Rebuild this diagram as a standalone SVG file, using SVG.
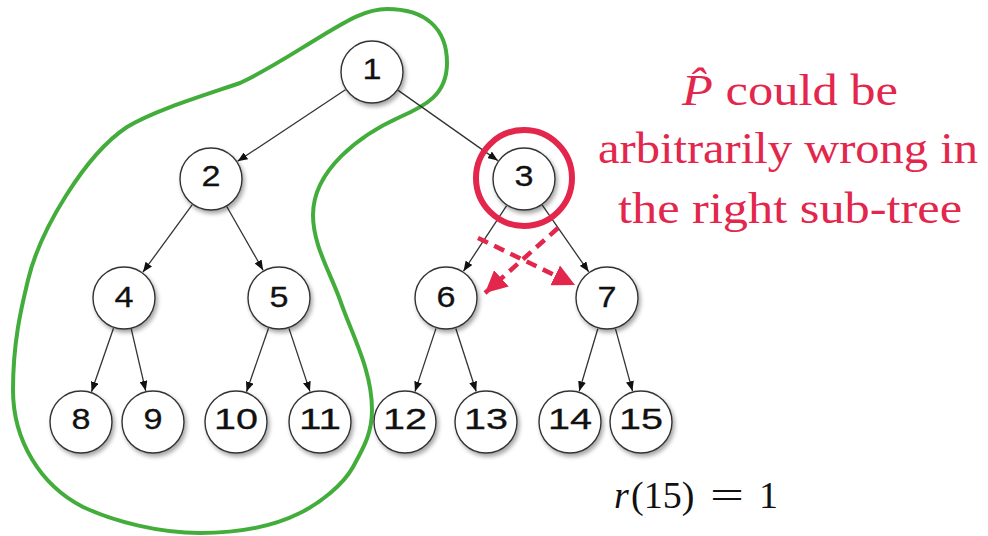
<svg xmlns="http://www.w3.org/2000/svg" width="988" height="536" viewBox="0 0 988 536">
<defs>
<filter id="sh" x="-30%" y="-30%" width="160%" height="160%">
<feDropShadow dx="2" dy="3" stdDeviation="2" flood-color="#000" flood-opacity="0.35"/>
</filter>
<marker id="ah" markerUnits="userSpaceOnUse" viewBox="0 0 10 8" markerWidth="10" markerHeight="8" refX="10" refY="4" orient="auto">
<path d="M0,0 L10,4 L0,8 z" fill="#111"/>
</marker>
<marker id="rh" markerUnits="userSpaceOnUse" viewBox="0 0 20 20" markerWidth="22" markerHeight="22" refX="20" refY="10" orient="auto">
<path d="M0,0 L20,10 L0,20 z" fill="#e3264c"/>
</marker>
<style>
.n circle{fill:#fff;stroke:#333;stroke-width:1.4;filter:url(#sh)}
.n text{font-family:"Liberation Sans",Arial,sans-serif;font-size:30px;fill:#111;stroke:#111;stroke-width:0.3;text-anchor:middle}
.e line{stroke:#333;stroke-width:1.3;marker-end:url(#ah)}
.r{fill:#e3264c;font-family:"Liberation Serif","Times New Roman",serif;font-size:45px;text-anchor:middle}
</style>
</defs>
<rect width="988" height="536" fill="#fff"/>

<g id="green-region">
<path fill="none" stroke="#43ad3c" stroke-width="4" d="M387,9 C425,9 447,28 447,63 C447,95 425,106 400,117 C360,135 313,170 313,215 C313,245 330,272 340,300 C352,335 372,370 372,410 C372,435 362,450 353,467 C343,485 320,503 300,513 C270,528 235,533 200,533 C160,533 115,522 83,507 C40,485 13,440 13,390 C13,340 22,305 28,280 C40,230 85,155 127,127 C155,110 205,95 240,83 C268,70 295,52 320,37 C345,22 365,9 387,9 Z"/>
</g>

<g id="connectors" class="e">
<line x1="345.4" y1="89.7" x2="237.6" y2="161.3"/>
<line x1="398.2" y1="90.4" x2="497.8" y2="160.6"/>
<line x1="192.1" y1="204.8" x2="142.9" y2="272.2"/>
<line x1="226.9" y1="206.8" x2="263.1" y2="270.2"/>
<line x1="506.5" y1="205.8" x2="463.5" y2="271.2"/>
<line x1="542.3" y1="205.2" x2="588.7" y2="271.8"/>
<line x1="113.5" y1="328.2" x2="91.5" y2="391.8"/>
<line x1="131.3" y1="329.2" x2="145.7" y2="390.8"/>
<line x1="268.5" y1="328.2" x2="246.5" y2="391.8"/>
<line x1="289.0" y1="328.4" x2="310.0" y2="391.6"/>
<line x1="436.0" y1="328.4" x2="415.0" y2="391.6"/>
<line x1="455.8" y1="328.5" x2="476.2" y2="391.5"/>
<line x1="597.8" y1="328.7" x2="579.2" y2="391.3"/>
<line x1="615.5" y1="328.9" x2="632.5" y2="391.1"/>
</g>

<g id="n1" class="n"><circle cx="372" cy="72" r="31"/><text x="372" y="79" textLength="19" lengthAdjust="spacingAndGlyphs">1</text></g>
<g id="n2" class="n"><circle cx="211" cy="179" r="31"/><text x="211" y="186" textLength="19" lengthAdjust="spacingAndGlyphs">2</text></g>
<g id="n3" class="n"><circle cx="524" cy="179" r="31"/><text x="524" y="186" textLength="19" lengthAdjust="spacingAndGlyphs">3</text></g>
<g id="n4" class="n"><circle cx="124" cy="298" r="31"/><text x="124" y="307" textLength="19" lengthAdjust="spacingAndGlyphs">4</text></g>
<g id="n5" class="n"><circle cx="279" cy="298" r="31"/><text x="279" y="307" textLength="19" lengthAdjust="spacingAndGlyphs">5</text></g>
<g id="n6" class="n"><circle cx="446" cy="298" r="31"/><text x="446" y="307" textLength="19" lengthAdjust="spacingAndGlyphs">6</text></g>
<g id="n7" class="n"><circle cx="607" cy="298" r="31"/><text x="607" y="307" textLength="19" lengthAdjust="spacingAndGlyphs">7</text></g>
<g id="n8" class="n"><circle cx="81" cy="422" r="31"/><text x="81" y="429" textLength="19" lengthAdjust="spacingAndGlyphs">8</text></g>
<g id="n9" class="n"><circle cx="153" cy="422" r="31"/><text x="153" y="429" textLength="19" lengthAdjust="spacingAndGlyphs">9</text></g>
<g id="n10" class="n"><circle cx="236" cy="422" r="31"/><text x="236" y="429" textLength="44" lengthAdjust="spacingAndGlyphs">10</text></g>
<g id="n11" class="n"><circle cx="320" cy="422" r="31"/><text x="320" y="429" textLength="42" lengthAdjust="spacingAndGlyphs">11</text></g>
<g id="n12" class="n"><circle cx="405" cy="422" r="31"/><text x="405" y="429" textLength="44" lengthAdjust="spacingAndGlyphs">12</text></g>
<g id="n13" class="n"><circle cx="486" cy="422" r="31"/><text x="486" y="429" textLength="44" lengthAdjust="spacingAndGlyphs">13</text></g>
<g id="n14" class="n"><circle cx="570" cy="422" r="31"/><text x="570" y="429" textLength="44" lengthAdjust="spacingAndGlyphs">14</text></g>
<g id="n15" class="n"><circle cx="641" cy="422" r="31"/><text x="641" y="429" textLength="44" lengthAdjust="spacingAndGlyphs">15</text></g>

<g id="highlight">
<circle cx="524" cy="178" r="48" fill="none" stroke="#e3264c" stroke-width="6"/>
<line x1="478" y1="238" x2="575" y2="285" stroke="#e3264c" stroke-width="4.5" stroke-dasharray="11 7" marker-end="url(#rh)"/>
<line x1="558" y1="228" x2="485" y2="293" stroke="#e3264c" stroke-width="4.5" stroke-dasharray="11 7" marker-end="url(#rh)"/>
</g>

<g id="note">
<text class="r" x="790" y="105" textLength="216" lengthAdjust="spacingAndGlyphs"><tspan font-style="italic">P̂</tspan> could be</text>
<text class="r" x="788" y="163" textLength="380" lengthAdjust="spacingAndGlyphs">arbitrarily wrong in</text>
<text class="r" x="790" y="223" textLength="344" lengthAdjust="spacingAndGlyphs">the right sub-tree</text>
</g>

<g id="formula" font-family="'Liberation Serif','Times New Roman',serif" font-size="38" fill="#111">
<text x="614" y="508"><tspan font-style="italic">r</tspan><tspan x="631">(15)</tspan></text>
<text x="710" y="508" textLength="34" lengthAdjust="spacingAndGlyphs">=</text>
<text x="759" y="508">1</text>
</g>
</svg>
